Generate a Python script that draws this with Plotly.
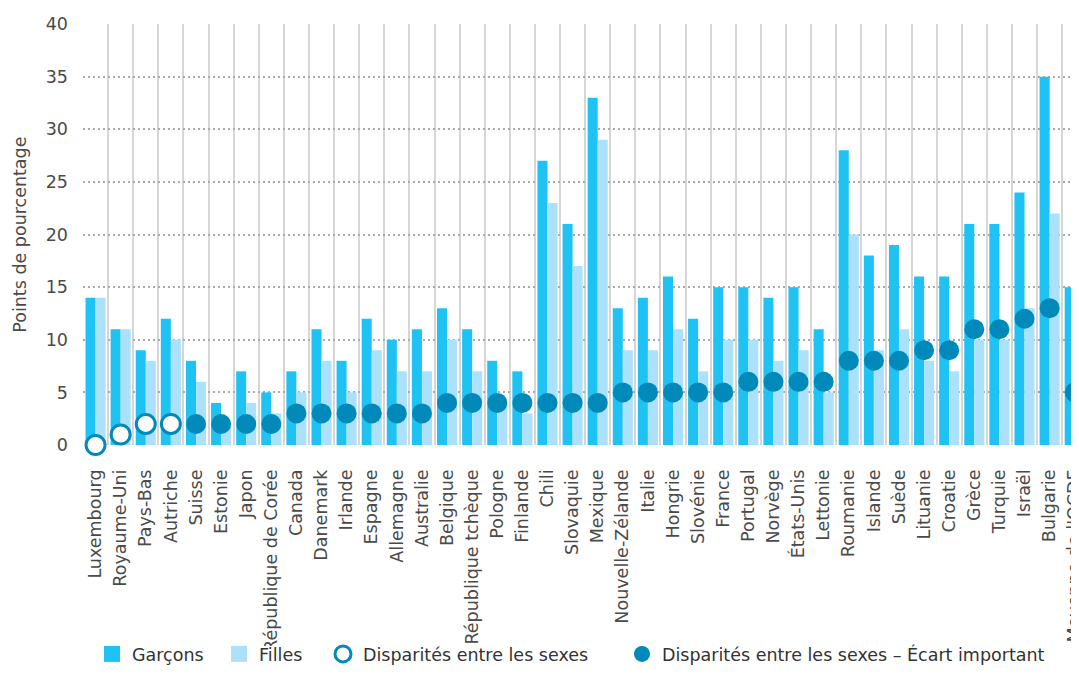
import plotly.graph_objects as go

pays = ["Luxembourg", "Royaume-Uni", "Pays-Bas", "Autriche", "Suisse", "Estonie", "Japon",
        "République de Corée", "Canada", "Danemark", "Irlande", "Espagne", "Allemagne",
        "Australie", "Belgique", "République tchèque", "Pologne", "Finlande", "Chili",
        "Slovaquie", "Mexique", "Nouvelle-Zélande", "Italie", "Hongrie", "Slovénie", "France",
        "Portugal", "Norvège", "États-Unis", "Lettonie", "Roumanie", "Islande", "Suède",
        "Lituanie", "Croatie", "Grèce", "Turquie", "Israël", "Bulgarie", "Moyenne de l'OCDE"]

garcons = [14, 11, 9, 12, 8, 4, 7, 5, 7, 11, 8, 12, 10, 11, 13, 11, 8, 7, 27, 21, 33, 13, 14,
           16, 12, 15, 15, 14, 15, 11, 28, 18, 19, 16, 16, 21, 21, 24, 35, 15]
filles = [14, 11, 8, 10, 6, 2, 4, 3, 5, 8, 5, 9, 7, 7, 10, 7, 4, 3, 23, 17, 29, 9, 9,
          11, 7, 10, 10, 8, 9, 5, 20, 9, 11, 8, 7, 10, 10, 13, 22, 10]
ecart = [0, 1, 2, 2, 2, 2, 2, 2, 3, 3, 3, 3, 3, 3, 4, 4, 4, 4, 4, 4, 4, 5, 5,
         5, 5, 5, 6, 6, 6, 6, 8, 8, 8, 9, 9, 11, 11, 12, 13, 5]
important = [False, False, False, False] + [True] * 36

BLUE = "#1fc3f3"
LIGHT = "#abe1fa"
DARK = "#0089b9"
FONT = "DejaVu Sans"
TXT = "#4a4a4a"
FS = 17.5

fig = go.Figure()
fig.add_bar(x=pays, y=garcons, name="Garçons", marker=dict(color=BLUE, line_width=0),
            showlegend=False)
fig.add_bar(x=pays, y=filles, name="Filles", marker=dict(color=LIGHT, line_width=0),
            showlegend=False)

# legend proxies for the bars (square symbols)
fig.add_scatter(x=[None], y=[None], mode="markers", name="Garçons", legend="legend",
                marker=dict(symbol="square", size=16, color=BLUE))
fig.add_scatter(x=[None], y=[None], mode="markers", name="Filles", legend="legend2",
                marker=dict(symbol="square", size=16, color=LIGHT))

fig.add_scatter(
    x=[p for p, imp in zip(pays, important) if not imp],
    y=[e for e, imp in zip(ecart, important) if not imp],
    mode="markers", name="Disparités entre les sexes", cliponaxis=False, legend="legend3",
    marker=dict(symbol="circle", size=19, color="white", line=dict(color=DARK, width=3)))
fig.add_scatter(
    x=[p for p, imp in zip(pays, important) if imp],
    y=[e for e, imp in zip(ecart, important) if imp],
    mode="markers", name="Disparités entre les sexes – Écart important", cliponaxis=False,
    legend="legend4",
    marker=dict(symbol="circle", size=20, color=DARK, line=dict(width=0)))

W, H = 1071, 685


def leg(xpx):
    return dict(orientation="h", xref="container", x=xpx / W, xanchor="left",
                yref="container", y=0.0569, yanchor="middle", itemsizing="trace",
                font=dict(family=FONT, size=FS, color="#333333"),
                bgcolor="rgba(0,0,0,0)", borderwidth=0)


fig.update_layout(
    width=W, height=H,
    margin=dict(l=75, r=0, t=16, b=248, autoexpand=False),
    paper_bgcolor="white", plot_bgcolor="white",
    barmode="group", bargap=0.2, bargroupgap=0,
    font=dict(family=FONT, size=FS, color=TXT),
    showlegend=True,
    legend=leg(84), legend2=leg(211), legend3=leg(315), legend4=leg(614),
    xaxis=dict(type="category", range=[-0.5, 39.17], tickangle=-90, tickson="boundaries",
               showgrid=True, gridcolor="#d6d6d6", gridwidth=2, ticks="",
               ticklabelstandoff=20, showline=False, zeroline=False, automargin=False,
               tickfont=dict(family=FONT, size=FS, color=TXT)),
    yaxis=dict(range=[0, 40], dtick=5, showgrid=True, gridcolor="#aaaaaa",
               griddash="2px,3px", gridwidth=1.5, zeroline=False, showline=False,
               ticks="", ticklabelstandoff=14, automargin=False,
               tickfont=dict(family=FONT, size=FS, color=TXT)),
    annotations=[dict(text="Points de pourcentage", xref="paper", yref="paper",
                      x=-0.064, y=0.5, xanchor="center", yanchor="middle", textangle=-90,
                      showarrow=False, font=dict(family=FONT, size=FS, color=TXT))],
    shapes=[dict(type="rect", xref="paper", yref="paper", x0=-0.2, x1=1.2,
                 y0=-0.4774, y1=-0.75, fillcolor="white", line=dict(width=0),
                 layer="above")],
)

fig.write_html("out.html")
